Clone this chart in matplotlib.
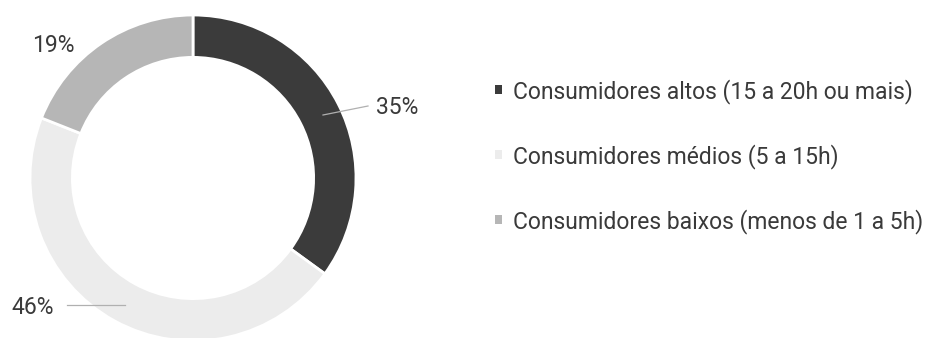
import matplotlib.pyplot as plt
from matplotlib.patches import Patch

categories = [
    "Consumidores altos (15 a 20h ou mais)",
    "Consumidores médios (5 a 15h)",
    "Consumidores baixos (menos de 1 a 5h)",
]
shares = [35, 46, 19]
colors = ["#3b3b3b", "#ececec", "#b6b6b6"]

plt.rcParams['font.family'] = ['Roboto', 'DejaVu Sans']

W, H = 946, 338
fig = plt.figure(figsize=(W / 100, H / 100), dpi=100)
ax = fig.add_axes([0, 0, 1, 1])

cx, cy, r = 193, 160, 163
wedges, _ = ax.pie(shares, colors=colors, startangle=90, counterclock=False,
                   center=(cx, cy), radius=r,
                   wedgeprops=dict(width=r * 0.26, edgecolor="white", linewidth=2))
ax.set_xlim(0, W)
ax.set_ylim(0, H)
ax.set_aspect("equal")
ax.axis("off")

# value labels with short leader lines
label_pos = [(397, 230), (33, 30), (53, 293)]
line_pts = [((323, 223), (368, 232)), ((67, 33), (125, 33)), None]
for v, (tx, ty), seg in zip(shares, label_pos, line_pts):
    ax.text(tx, ty, f"{v}%", ha="center", va="center",
            fontsize=16.5, color="#3a3a3a")
    if seg is not None:
        (x0, y0), (x1, y1) = seg
        ax.plot([x0, x1], [y0, y1], color="#b0b0b0", lw=0.9)

# square legend keys without the white wedge border
handles = [Patch(facecolor=w.get_facecolor(), edgecolor="none") for w in wedges]
leg = ax.legend(handles, categories, loc="upper left",
                bbox_to_anchor=(474 / W, 1 - 58 / H),
                frameon=False, fontsize=16.5, handlelength=0.32, handleheight=0.25,
                handletextpad=0.5, labelspacing=1.75, labelcolor="#3a3a3a")

fig.savefig("out.png", dpi=100)
